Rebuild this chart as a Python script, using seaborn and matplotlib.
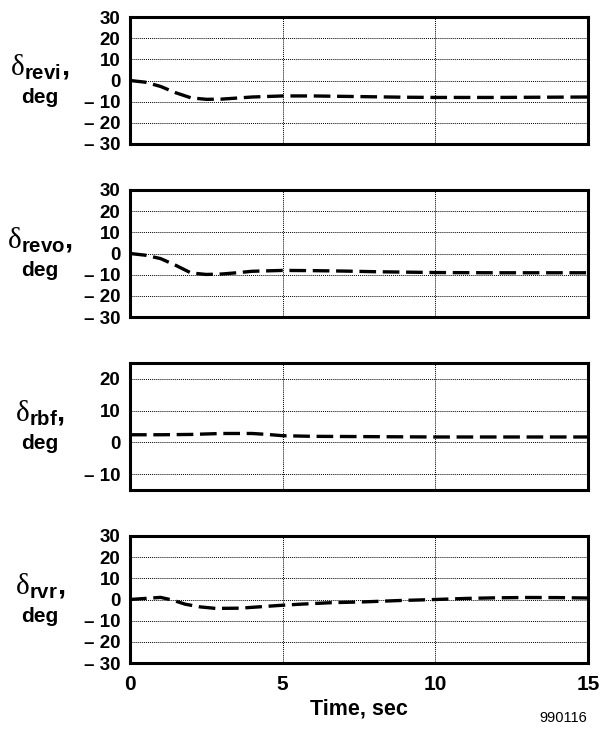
"""Four stacked rudder deflection time histories (dashed response traces)."""

import matplotlib.pyplot as plt
import pandas as pd
import seaborn as sns

# time, sec
t_revi = [0, 0.5, 1, 1.5, 2, 2.5, 3, 3.5, 4, 5, 6, 7, 8, 9, 10, 12, 15]
v_revi = [0, -0.8, -2.8, -5.8, -8.2, -8.9, -8.8, -8.3, -7.8, -7.3, -7.3, -7.5, -7.7, -7.9, -8.0, -8.0, -7.8]

t_revo = [0, 0.5, 1, 1.5, 2, 2.5, 3, 3.5, 4, 5, 6, 7, 8, 9, 10, 12, 15]
v_revo = [0, -0.8, -2.4, -5.6, -9.2, -9.9, -9.7, -9.1, -8.4, -8.0, -8.1, -8.3, -8.6, -8.8, -9.0, -9.1, -9.1]

t_rbf = [0, 1, 2, 3, 4, 4.5, 5, 6, 8, 10, 12, 15]
v_rbf = [2.4, 2.4, 2.5, 2.8, 2.8, 2.5, 2.1, 1.9, 1.8, 1.7, 1.7, 1.7]

t_rvr = [0, 0.5, 1, 1.4, 1.8, 2.3, 2.8, 3.6, 4.2, 5, 5.6, 6.6, 7.7, 8.8, 10, 11, 12, 13, 14, 15]
v_rvr = [0, 0.5, 1.0, -0.3, -2.2, -3.5, -4.2, -4.1, -3.5, -2.7, -2.2, -1.5, -1.1, -0.5, 0, 0.5, 0.8, 0.95, 0.9, 0.7]

labels = ["revi", "revo", "rbf", "rvr"]
y_ticks_full = [-30, -20, -10, 0, 10, 20, 30]
y_ticks_rbf = [-10, 0, 10, 20]
x_ticks = [0, 5, 10, 15]

sns.set_theme(style="white")
plt.rcParams["font.family"] = ["Liberation Sans", "DejaVu Sans"]
plt.rcParams["mathtext.fontset"] = "custom"
plt.rcParams["mathtext.rm"] = "Liberation Serif"
plt.rcParams["mathtext.bf"] = "Liberation Sans:bold"
plt.rcParams.update({
    "text.color": "black",
    "axes.labelcolor": "black",
    "xtick.color": "black",
    "ytick.color": "black",
})


def tick_text(v):
    return f"\u2013 {abs(v)}" if v < 0 else str(v)


def draw_panel(fig, rect, t, v, name, yticks, ylim, bottom=False):
    ax = fig.add_axes(rect)
    df = pd.DataFrame({"time": t, "deflection": v})
    sns.lineplot(data=df, x="time", y="deflection", ax=ax, color="black",
                 linewidth=2.4, dashes=False)
    ax.lines[0].set_dashes((5, 2))
    ax.set_xlim(0, 15)
    ax.set_ylim(*ylim)
    ax.set_xticks(x_ticks)
    ax.set_yticks(yticks)
    ax.set_yticklabels([tick_text(y) for y in yticks], fontsize=13.5, fontweight="bold")
    if bottom:
        ax.set_xticklabels([str(x) for x in x_ticks], fontsize=15, fontweight="bold")
        ax.set_xlabel("Time, sec", fontsize=15.5, fontweight="bold", labelpad=3)
    else:
        ax.set_xticklabels([])
        ax.set_xlabel("")
    ax.set_ylabel("")
    ax.tick_params(axis="y", length=0, pad=7, colors="black")
    ax.tick_params(axis="x", length=0, pad=9, colors="black")
    inner = [y for y in yticks if ylim[0] < y < ylim[1]]
    for y in inner:
        ax.axhline(y, color="black", linestyle=(0, (1, 1)), linewidth=0.7, zorder=0)
    for x in (5, 10):
        ax.axvline(x, color="black", linestyle=(0, (1, 1)), linewidth=0.7, zorder=0)
    for sp in ax.spines.values():
        sp.set_color("black")
        sp.set_linewidth(2.2)

    # delta label to the left of the axes
    x0, y0, w, h = rect
    yc = y0 + h / 2
    fig.text(40 / 604, yc + 13 / 730, r"$\mathrm{\delta}_{\mathbf{%s}}\mathbf{,}$" % name,
             ha="center", va="center", fontsize=21, color="black")
    fig.text(40 / 604, yc - 17 / 730, "deg", ha="center", va="center",
             fontsize=15, fontweight="bold", color="black")
    return ax


def main():
    fig = plt.figure(figsize=(6.04, 7.30), dpi=100)
    left = 130 / 604
    width = 458 / 604
    tops = [17, 190, 363, 536]
    height_px = 127
    series = [(t_revi, v_revi), (t_revo, v_revo), (t_rbf, v_rbf), (t_rvr, v_rvr)]
    for i, (name, top, (t, v)) in enumerate(zip(labels, tops, series)):
        rect = [left, 1 - (top + height_px) / 730, width, height_px / 730]
        if name == "rbf":
            draw_panel(fig, rect, t, v, name, y_ticks_rbf, (-15, 25))
        else:
            draw_panel(fig, rect, t, v, name, y_ticks_full, (-30, 30), bottom=(i == 3))

    fig.text(587 / 604, 1 - 718 / 730, "990116", ha="right", va="center", fontsize=10.5, color="black")
    fig.savefig("out.png", dpi=100)
    plt.close(fig)


if __name__ == "__main__":
    main()
